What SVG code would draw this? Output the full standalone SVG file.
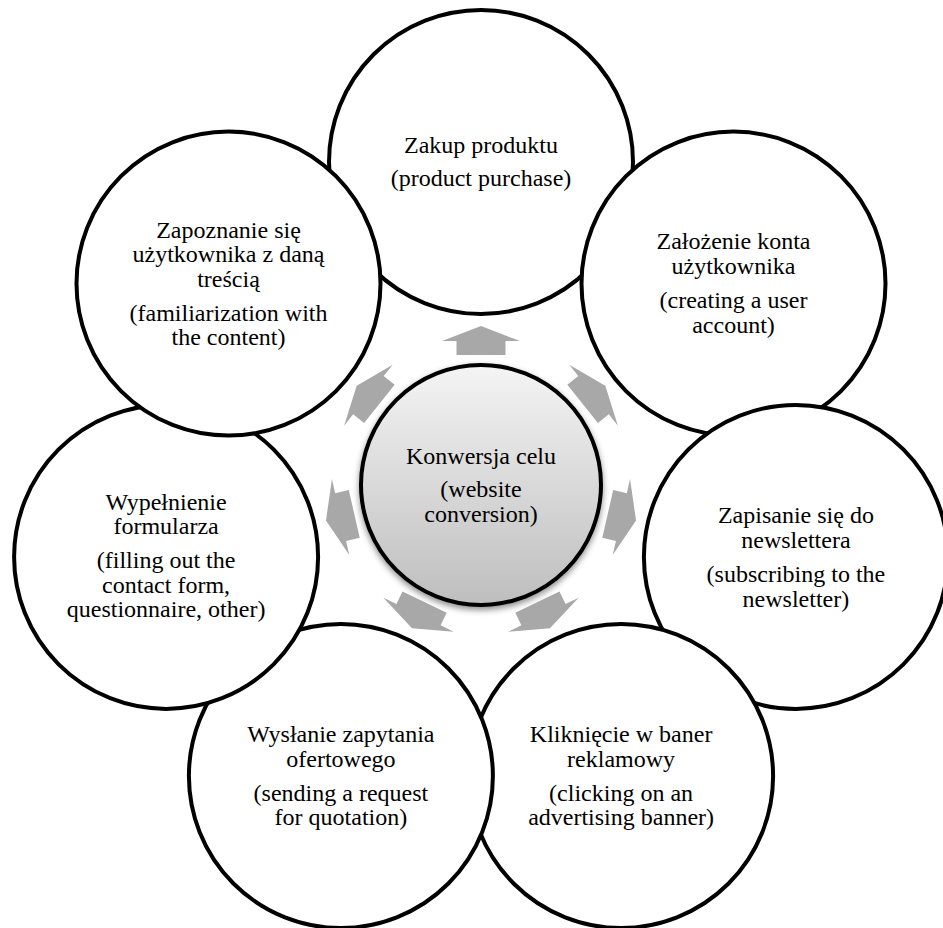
<svg xmlns="http://www.w3.org/2000/svg" width="943" height="928" viewBox="0 0 943 928">
  <style>
    .ring { fill: #ffffff; stroke: #000000; stroke-width: 4; }
    .hub { fill: url(#hubGrad); stroke: #000000; stroke-width: 4; filter: url(#shadow); }
    .lbl { font-family: "Liberation Serif", "Times New Roman", serif; font-size: 24px; fill: #000000; text-anchor: middle; }
    .arrow { fill: #a8a8a8; stroke: none; }
  </style>
  <defs>
    <linearGradient id="hubGrad" x1="0" y1="0" x2="0" y2="1">
      <stop offset="0" stop-color="#f4f4f4"/>
      <stop offset="1" stop-color="#bebebe"/>
    </linearGradient>
    <filter id="shadow" x="-20%" y="-20%" width="140%" height="140%">
      <feDropShadow dx="0" dy="3" stdDeviation="3" flood-color="#000000" flood-opacity="0.45"/>
    </filter>
    <polygon id="arr" points="456.5,355 456.5,341 442,341 481,326 520,341 505.5,341 505.5,355"/>
  </defs>
  <rect x="0" y="0" width="943" height="928" fill="#ffffff"/>

  <g id="node-top">
    <circle class="ring" cx="481" cy="162" r="152"/>
    <text class="lbl"><tspan x="481" y="153">Zakup produktu</tspan><tspan x="481" y="186">(product purchase)</tspan></text>
  </g>
  <g id="node-upper-right">
    <circle class="ring" cx="733.5" cy="283.6" r="152"/>
    <text class="lbl"><tspan x="733.5" y="249">Założenie konta</tspan><tspan x="733.5" y="273.5">użytkownika</tspan><tspan x="733.5" y="308">(creating a user</tspan><tspan x="733.5" y="332.5">account)</tspan></text>
  </g>
  <g id="node-right">
    <circle class="ring" cx="795.9" cy="556.9" r="152"/>
    <text class="lbl"><tspan x="795.9" y="523">Zapisanie się do</tspan><tspan x="795.9" y="547.5">newslettera</tspan><tspan x="795.9" y="582">(subscribing to the</tspan><tspan x="795.9" y="606.5">newsletter)</tspan></text>
  </g>
  <g id="node-lower-right">
    <circle class="ring" cx="621.1" cy="776" r="152"/>
    <text class="lbl"><tspan x="621.1" y="742">Kliknięcie w baner</tspan><tspan x="621.1" y="766.5">reklamowy</tspan><tspan x="621.1" y="800.5">(clicking on an</tspan><tspan x="621.1" y="825">advertising banner)</tspan></text>
  </g>
  <g id="node-lower-left">
    <circle class="ring" cx="340.9" cy="776" r="152"/>
    <text class="lbl"><tspan x="340.9" y="742">Wysłanie zapytania</tspan><tspan x="340.9" y="766.5">ofertowego</tspan><tspan x="340.9" y="800.5">(sending a request</tspan><tspan x="340.9" y="825">for quotation)</tspan></text>
  </g>
  <g id="node-left">
    <circle class="ring" cx="166.1" cy="556.9" r="152"/>
    <text class="lbl"><tspan x="166.1" y="509.5">Wypełnienie</tspan><tspan x="166.1" y="534">formularza</tspan><tspan x="166.1" y="568">(filling out the</tspan><tspan x="166.1" y="592.5">contact form,</tspan><tspan x="166.1" y="617">questionnaire, other)</tspan></text>
  </g>
  <g id="node-upper-left">
    <circle class="ring" cx="228.5" cy="283.6" r="152"/>
    <text class="lbl"><tspan x="228.5" y="237.5">Zapoznanie się</tspan><tspan x="228.5" y="262">użytkownika z daną</tspan><tspan x="228.5" y="286.5">treścią</tspan><tspan x="228.5" y="320.5">(familiarization with</tspan><tspan x="228.5" y="345">the content)</tspan></text>
  </g>

  <g id="connectors">
    <use href="#arr" class="arrow" transform="rotate(0 481 485)"/>
    <use href="#arr" class="arrow" transform="rotate(51.4286 481 485)"/>
    <use href="#arr" class="arrow" transform="rotate(102.8571 481 485)"/>
    <use href="#arr" class="arrow" transform="rotate(154.2857 481 485)"/>
    <use href="#arr" class="arrow" transform="rotate(205.7143 481 485)"/>
    <use href="#arr" class="arrow" transform="rotate(257.1429 481 485)"/>
    <use href="#arr" class="arrow" transform="rotate(308.5714 481 485)"/>
  </g>

  <g id="node-center">
    <circle class="hub" cx="481" cy="485" r="120"/>
    <text class="lbl"><tspan x="481" y="463.5">Konwersja celu</tspan><tspan x="481" y="497">(website</tspan><tspan x="481" y="521.5">conversion)</tspan></text>
  </g>
</svg>
